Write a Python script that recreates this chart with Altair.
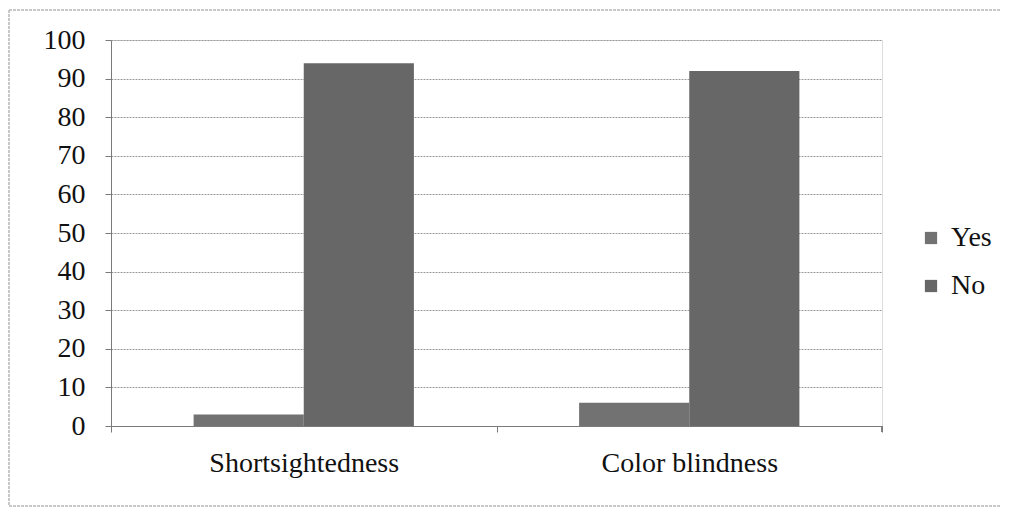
import altair as alt
import pandas as pd

categories = ["Shortsightedness", "Shortsightedness", "Color blindness", "Color blindness"]
answers = ["Yes", "No", "Yes", "No"]
values = [3, 94, 6, 92]
cat_order = ["Shortsightedness", "Color blindness"]
ans_order = ["Yes", "No"]
ans_colors = ["#727272", "#676767"]
y_ticks = [0, 10, 20, 30, 40, 50, 60, 70, 80, 90, 100]

df = pd.DataFrame({"category": categories, "answer": answers, "value": values})

FONT = "Liberation Serif"

bars = alt.Chart(df).mark_bar(stroke=None).encode(
    x=alt.X("category:N", sort=cat_order,
            scale=alt.Scale(paddingInner=0, paddingOuter=0),
            axis=alt.Axis(title=None, labelAngle=0, tickBand="extent", tickSize=6,
                          labelPadding=17, labelLimit=0, domainColor="#7a7a7a", tickColor="#7a7a7a",
                          labelFont=FONT, labelFontSize=28, labelColor="#111111", grid=False)),
    xOffset=alt.XOffset("answer:N", sort=ans_order,
                        scale=alt.Scale(paddingInner=0, paddingOuter=0.75)),
    y=alt.Y("value:Q", scale=alt.Scale(domain=[0, 100], nice=False),
            axis=alt.Axis(title=None, values=y_ticks, tickSize=6, labelPadding=20,
                          domainColor="#7a7a7a", tickColor="#7a7a7a",
                          gridColor="#9a9a9a", gridDash=[2, 1], gridWidth=1,
                          labelFont=FONT, labelFontSize=28, labelColor="#111111")),
    color=alt.Color("answer:N", sort=ans_order,
                    scale=alt.Scale(domain=ans_order, range=ans_colors),
                    legend=alt.Legend(title=None, orient="none", legendX=806, legendY=184,
                                      symbolType="square", symbolSize=150,
                                      symbolStrokeWidth=0, labelFont=FONT,
                                      labelFontSize=28, labelColor="#111111",
                                      labelOffset=6, rowPadding=20, padding=0, labelLimit=0)),
)

end_tick = alt.Chart(df).mark_rule(color="#7a7a7a").encode(
    x=alt.value(771), y=alt.value(386), y2=alt.value(392)
)

frame_style = dict(color="#c4c4c4", strokeWidth=1, strokeDash=[3, 1])
frame_left = alt.Chart(df).mark_rule(**frame_style).encode(
    x=alt.value(-102), y=alt.value(-30), y2=alt.value(466))
frame_top = alt.Chart(df).mark_rule(**frame_style).encode(
    x=alt.value(-102), x2=alt.value(900), y=alt.value(-30))
frame_bottom = alt.Chart(df).mark_rule(**frame_style).encode(
    x=alt.value(-102), x2=alt.value(900), y=alt.value(466))

chart = alt.layer(frame_left, frame_top, frame_bottom, bars, end_tick).properties(
    width=771, height=386,
    autosize=alt.AutoSizeParams(type="none"),
    padding={"left": 103, "top": 32, "right": 119, "bottom": 81},
).configure_view(stroke=None).configure(background="white")

chart.save("out.html", embed_options={"renderer": "svg", "actions": False})
